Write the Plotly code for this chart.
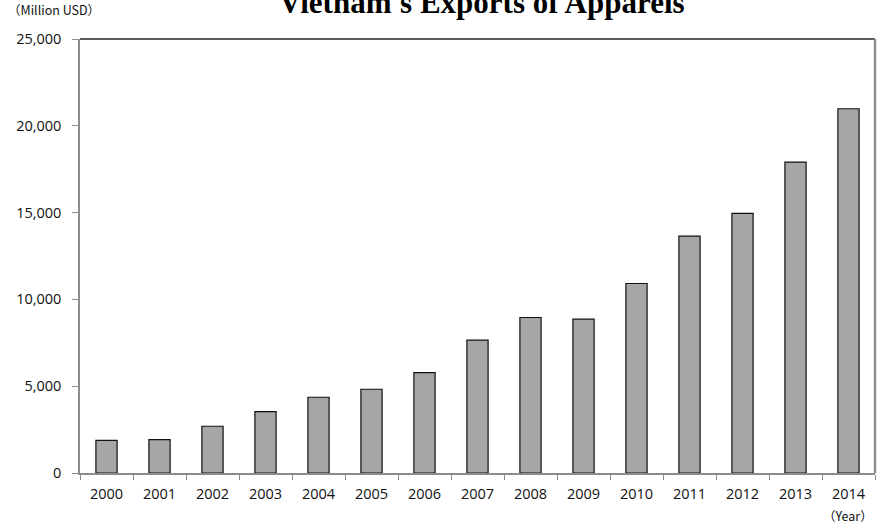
import plotly.graph_objects as go

years = ["2000", "2001", "2002", "2003", "2004", "2005", "2006", "2007",
         "2008", "2009", "2010", "2011", "2012", "2013", "2014"]
exports_musd = [1885, 1925, 2692, 3539, 4363, 4825, 5787, 7649,
                8957, 8859, 10917, 13644, 14952, 17909, 20981]
y_ticks = [0, 5000, 10000, 15000, 20000, 25000]
y_tick_labels = ["0", "5,000", "10,000", "15,000", "20,000", "25,000"]

label_font = dict(family="Open Sans, Liberation Sans, sans-serif", size=14.5, color="#111")

fig = go.Figure(
    go.Bar(
        x=years,
        y=exports_musd,
        marker=dict(color="#a6a6a6", line=dict(color="#111", width=1.2)),
        width=0.4,
        hoverinfo="x+y",
    )
)

fig.update_layout(
    width=883,
    height=524,
    margin=dict(l=80, r=8, t=39, b=51),
    paper_bgcolor="white",
    plot_bgcolor="white",
    showlegend=False,
    xaxis=dict(
        type="category",
        tickson="boundaries",
        ticks="outside",
        ticklen=5,
        tickcolor="#8c8c8c",
        showline=True,
        linecolor="#8c8c8c",
        linewidth=1.5,
        showgrid=False,
        tickfont=label_font,
        ticklabelstandoff=7,
        range=[-0.5, 14.5],
    ),
    yaxis=dict(
        range=[0, 25000],
        tickvals=y_ticks,
        ticktext=y_tick_labels,
        ticks="outside",
        ticklen=6,
        tickcolor="#8c8c8c",
        showline=True,
        linecolor="#8c8c8c",
        linewidth=1.5,
        showgrid=False,
        zeroline=False,
        tickfont=label_font,
        ticklabelstandoff=8,
    ),
    shapes=[
        dict(type="line", xref="paper", yref="paper", x0=0, x1=1, y0=1, y1=1,
             line=dict(color="#222", width=1.5)),
        dict(type="line", xref="paper", yref="paper", x0=1, x1=1, y0=0, y1=1,
             line=dict(color="#8c8c8c", width=2.5)),
    ],
    annotations=[
        dict(text="<b>Vietnam's Exports of Apparels</b>", xref="paper", yref="paper",
             x=0.506, y=1, yshift=17, xanchor="center", yanchor="bottom",
             showarrow=False,
             font=dict(family="Liberation Serif, Times New Roman, serif", size=31, color="#000")),
        dict(text="（Million USD）", xref="paper", yref="paper",
             x=-0.093, y=1, yshift=18, xanchor="left", yanchor="bottom",
             showarrow=False,
             font=dict(family="Noto Sans CJK JP, sans-serif", size=12.5, color="#111")),
        dict(text="（Year）", xref="paper", yref="paper",
             x=1, y=0, yshift=-31, xanchor="right", yanchor="top",
             showarrow=False,
             font=dict(family="Noto Sans CJK JP, sans-serif", size=12.5, color="#111")),
        dict(text="Note: USD1 = 99", xref="paper", yref="paper",
             x=-0.008, y=0, yshift=-46, xanchor="left", yanchor="top",
             showarrow=False,
             font=dict(family="Noto Sans CJK JP, sans-serif", size=11, color="#111")),
    ],
)

fig.write_html("out.html")
